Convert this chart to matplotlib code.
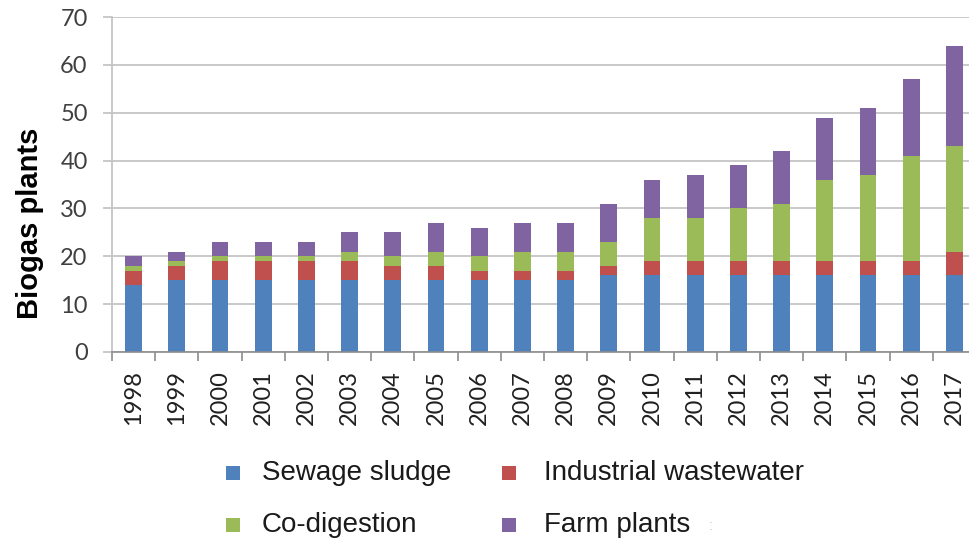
import numpy as np
import matplotlib
matplotlib.use("Agg")
import matplotlib.pyplot as plt
from matplotlib.patches import Rectangle
from matplotlib.ticker import FixedLocator

# ---------------------
# Data
# ---------------------
years = list(range(1998, 2018))
sewage_sludge = [14, 15, 15, 15, 15, 15, 15, 15, 15, 15, 15, 16, 16, 16, 16, 16, 16, 16, 16, 16]
industrial_wastewater = [3, 3, 4, 4, 4, 4, 3, 3, 2, 2, 2, 2, 3, 3, 3, 3, 3, 3, 3, 5]
co_digestion = [1, 1, 1, 1, 1, 2, 2, 3, 3, 4, 4, 5, 9, 9, 11, 12, 17, 18, 22, 22]
farm_plants = [2, 2, 3, 3, 3, 4, 5, 6, 6, 6, 6, 8, 8, 9, 9, 11, 13, 14, 16, 21]

series_names = ['Sewage sludge', 'Industrial wastewater', 'Co-digestion', 'Farm plants']
series_colors = ['#4F81BD', '#C0504D', '#9BBB59', '#8064A2']

# ---------------------
# Figure
# ---------------------
W, H = 970, 545
fig = plt.figure(figsize=(W / 100, H / 100), dpi=100)
ax = fig.add_axes([112 / W, 1 - 352 / H, 864 / W, 335 / H])

x = np.arange(len(years))
bottom = np.zeros(len(years))
for vals, color in zip([sewage_sludge, industrial_wastewater, co_digestion, farm_plants], series_colors):
    ax.bar(x, vals, width=0.39, bottom=bottom, color=color, linewidth=0, zorder=3)
    bottom += np.array(vals)

ax.set_xlim(-0.5, len(years) - 0.5)
ax.set_ylim(0, 70)

# y axis
ax.set_yticks(range(0, 71, 10))
ax.yaxis.grid(True, color='#C0C0C0', linewidth=1.2, zorder=0)
ax.tick_params(axis='y', length=6.5, width=1.2, color='#C0C0C0', pad=11,
               labelsize=17, labelcolor='#404040')
for lbl in ax.get_yticklabels():
    lbl.set_fontfamily('Lato')

# x axis: labels at centers, tick marks between categories
ax.set_xticks(x)
ax.set_xticklabels([str(y) for y in years], rotation=90, fontsize=17,
                   color='#202020', family='Lato')
ax.tick_params(axis='x', which='major', length=0, pad=13)
ax.xaxis.set_minor_locator(FixedLocator(np.arange(-0.5, len(years), 1.0)))
ax.tick_params(axis='x', which='minor', length=6.5, width=1.2, color='#8C8C8C')

for side in ['top', 'right']:
    ax.spines[side].set_visible(False)
ax.spines['left'].set_color('#C0C0C0')
ax.spines['left'].set_linewidth(1.2)
ax.spines['bottom'].set_color('#8C8C8C')
ax.spines['bottom'].set_linewidth(1.2)
ax.spines['bottom'].set_zorder(4)

# y label
fig.text(30 / W, 1 - 223 / H, 'Biogas plants', rotation=90, ha='center', va='center',
         fontsize=21, fontweight='bold', family='Liberation Sans', color='black')

# legend, two rows: (square x, text x, y) in pixels
legend_pos = [(233, 262, 473), (509, 544, 473), (233, 262, 525), (509, 544, 525)]
sq = 14
for (px, tx, py), name, color in zip(legend_pos, series_names, series_colors):
    fig.add_artist(Rectangle(((px - sq / 2) / W, 1 - (py + sq / 2) / H), sq / W, sq / H,
                             transform=fig.transFigure, facecolor=color, edgecolor='none'))
    fig.text(tx / W, 1 - py / H, name, ha='left', va='center',
             fontsize=20, family='Liberation Sans', color='#1A1A1A')
fig.text(711 / W, 1 - 526 / H, ':', ha='center', va='center', fontsize=10,
         family='Liberation Sans', color='#C8C8C8')

fig.savefig('out.png', dpi=100)
